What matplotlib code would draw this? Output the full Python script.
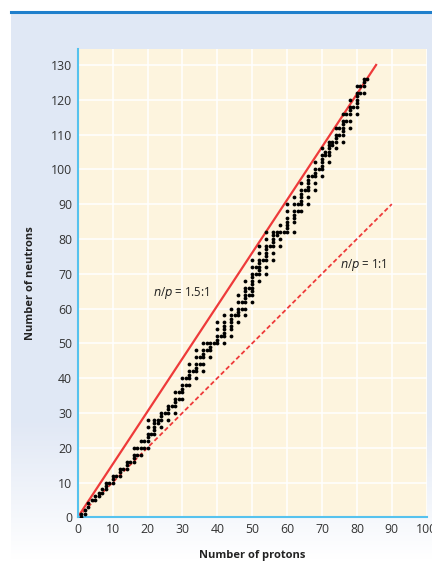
import numpy as np
import matplotlib
matplotlib.use("Agg")
import matplotlib.pyplot as plt

# stable nuclides: proton number -> neutron numbers
stable = {
    1: [0, 1], 2: [1, 2], 3: [3, 4], 4: [5], 5: [5, 6], 6: [6, 7], 7: [7, 8],
    8: [8, 9, 10], 9: [10], 10: [10, 11, 12], 11: [12], 12: [12, 13, 14],
    13: [14], 14: [14, 15, 16], 15: [16], 16: [16, 17, 18, 20], 17: [18, 20],
    18: [18, 20, 22], 19: [20, 22], 20: [20, 22, 23, 24, 26, 28], 21: [24],
    22: [24, 25, 26, 27, 28], 23: [27, 28], 24: [26, 28, 29, 30], 25: [30],
    26: [28, 30, 31, 32], 27: [32], 28: [30, 32, 33, 34, 36], 29: [34, 36],
    30: [34, 36, 37, 38, 40], 31: [38, 40], 32: [38, 40, 41, 42, 44], 33: [42],
    34: [40, 42, 43, 44, 46, 48], 35: [44, 46], 36: [42, 44, 46, 47, 48, 50],
    37: [48, 50], 38: [46, 48, 49, 50], 39: [50], 40: [50, 51, 52, 54, 56],
    41: [52], 42: [50, 52, 53, 54, 55, 56, 58], 44: [52, 54, 55, 56, 57, 58, 60],
    45: [58], 46: [56, 58, 59, 60, 62, 64], 47: [60, 62],
    48: [58, 60, 62, 63, 64, 65, 66, 68], 49: [64, 66],
    50: [62, 64, 65, 66, 67, 68, 69, 70, 72, 74], 51: [70, 72],
    52: [68, 70, 71, 72, 73, 74, 76, 78], 53: [74],
    54: [70, 72, 74, 75, 76, 77, 78, 80, 82], 55: [78],
    56: [74, 76, 78, 79, 80, 81, 82], 57: [81, 82], 58: [78, 80, 82, 84],
    59: [82], 60: [82, 83, 84, 85, 86, 88, 90], 62: [82, 85, 86, 87, 88, 90, 92],
    63: [88, 90], 64: [88, 90, 91, 92, 93, 94, 96], 65: [94],
    66: [90, 92, 94, 95, 96, 97, 98], 67: [98], 68: [94, 96, 98, 99, 100, 102],
    69: [100], 70: [98, 100, 101, 102, 103, 104, 106], 71: [104, 105],
    72: [102, 104, 105, 106, 107, 108], 73: [107, 108],
    74: [106, 108, 109, 110, 112], 75: [110, 112],
    76: [108, 110, 111, 112, 113, 114, 116], 77: [114, 116],
    78: [112, 114, 116, 117, 118, 120], 79: [118],
    80: [116, 118, 119, 120, 121, 122, 124], 81: [122, 124],
    82: [122, 124, 125, 126], 83: [126],
}
protons = [z for z, ns in stable.items() for n in ns]
neutrons = [n for z, ns in stable.items() for n in ns]

line_15_x = [0, 85.5]
line_15_y = [0, 130]
line_11_x = [0, 90]
line_11_y = [0, 90]

fig = plt.figure(figsize=(4.32, 5.66), dpi=100)

# light blue panel behind the chart, fading to white at the bottom
bg = fig.add_axes([11 / 432, 6 / 566, 421 / 432, 548 / 566])
grad = np.linspace(0, 1, 256).reshape(-1, 1)
top_c = np.array([0.882, 0.910, 0.961])
bot_c = np.array([1.0, 1.0, 1.0])
w = np.clip((grad - 0.75) / 0.25, 0, 1)
img = top_c * (1 - w[..., None]) + bot_c * w[..., None]
bg.imshow(img, aspect="auto", extent=[0, 1, 0, 1])
bg.axis("off")
fig.add_artist(plt.Line2D([11 / 432, 1], [1 - 12 / 566, 1 - 12 / 566],
                          color="#1f7fcc", lw=2.2))

ax = fig.add_axes([77.7 / 432, 1 - 517.3 / 566, 349 / 432, 468 / 566])
ax.set_facecolor("#fdf4de")
ax.set_xlim(0, 100)
ax.set_ylim(0, 134.5)
ax.set_xticks(range(0, 101, 10))
ax.set_yticks(range(0, 131, 10))
ax.grid(color="white", lw=1.1)
ax.set_axisbelow(True)
for s in ["top", "right"]:
    ax.spines[s].set_visible(False)
for s in ["left", "bottom"]:
    ax.spines[s].set_color("#56c2ee")
    ax.spines[s].set_linewidth(1.5)
ax.tick_params(length=0, pad=4, labelsize=8.8, labelcolor="#333333")
for lab in ax.get_xticklabels() + ax.get_yticklabels():
    lab.set_fontfamily("Open Sans")

ax.plot(line_15_x, line_15_y, color="#ee3a3a", lw=1.6, zorder=2)
ax.plot(line_11_x, line_11_y, color="#ee3a3a", lw=1.3, ls=(0, (2.5, 1.5)), zorder=2)
ax.scatter(protons, neutrons, s=7.5, color="black", zorder=3, linewidths=0)

ax.text(21.6, 64.5, r"$n$/$p$ = 1.5:1", fontsize=8.3, va="center", color="#222222",
        family="Open Sans")
ax.text(75.2, 72.5, r"$n$/$p$ = 1:1", fontsize=8.3, va="center", color="#222222",
        family="Open Sans")

ax.set_xlabel("Number of protons", fontsize=8, fontweight="bold",
              family="Open Sans", color="#222222", labelpad=10)
ax.set_ylabel("Number of neutrons", fontsize=8, fontweight="bold",
              family="Open Sans", color="#222222", labelpad=11)

fig.savefig("out.png", dpi=100)
